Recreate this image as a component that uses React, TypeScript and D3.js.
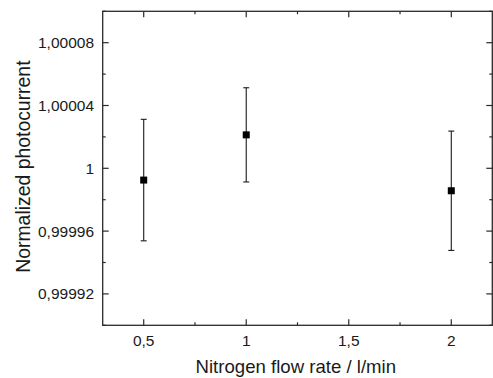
import React from "react";
import * as d3 from "d3";

const flowRates = [0.5, 1, 2];
const photocurrent = [0.9999925, 1.0000213, 0.9999857];
const errors = [0.0000387, 0.00003, 0.000038];
const yTicks = [0.99992, 0.99996, 1, 1.00004, 1.00008];
const yMinorTicks = [0.9999, 0.99994, 0.99998, 1.00002, 1.00006, 1.0001];
const xTicks = [0.5, 1, 1.5, 2];
const xMinorTicks = [0.75, 1.25, 1.75];

const W = 493, H = 378;
const left = 102.7, right = 492.3, top = 11.3, bottom = 325.3;

const fmt = (v: number) => {
  if (v === 1) return "1";
  return v.toFixed(5).replace(/0+$/, "").replace(".", ",");
};
const fmtX = (v: number) => (Number.isInteger(v) ? String(v) : String(v).replace(".", ","));

export default function App() {
  const x = d3.scaleLinear().domain([0.3, 2.2]).range([left, right]);
  const y = d3.scaleLinear().domain([0.9999, 1.0001]).range([bottom, top]);
  const font = "'Liberation Sans', Arial, sans-serif";
  const axisColor = "#2a2a2a";
  const major = 6, minor = 3;
  return (
    <svg width={W} height={H} style={{ position: "absolute", left: 0, top: 0 }}>
      <rect x={0} y={0} width={W} height={H} fill="#fff" />
      {/* frame */}
      <rect x={left} y={top} width={right - left} height={bottom - top} fill="none" stroke={axisColor} strokeWidth={1.3} />
      {/* y ticks */}
      {yTicks.map((t) => (
        <g key={"y" + t}>
          <line x1={left} x2={left + major} y1={y(t)} y2={y(t)} stroke={axisColor} strokeWidth={1.2} />
          <line x1={right} x2={right - major} y1={y(t)} y2={y(t)} stroke={axisColor} strokeWidth={1.2} />
          <text x={94} y={y(t)} dy="0.36em" textAnchor="end" fontFamily={font} fontSize={15.5} fill="#1a1a1a">
            {fmt(t)}
          </text>
        </g>
      ))}
      {yMinorTicks.map((t) => (
        <g key={"ym" + t}>
          <line x1={left} x2={left + minor} y1={y(t)} y2={y(t)} stroke={axisColor} strokeWidth={1.2} />
          <line x1={right} x2={right - minor} y1={y(t)} y2={y(t)} stroke={axisColor} strokeWidth={1.2} />
        </g>
      ))}
      {/* x ticks */}
      {xTicks.map((t) => (
        <g key={"x" + t}>
          <line x1={x(t)} x2={x(t)} y1={bottom} y2={bottom - major} stroke={axisColor} strokeWidth={1.2} />
          <line x1={x(t)} x2={x(t)} y1={top} y2={top + major} stroke={axisColor} strokeWidth={1.2} />
          <text x={x(t)} y={346.3} textAnchor="middle" fontFamily={font} fontSize={15.5} fill="#1a1a1a">
            {fmtX(t)}
          </text>
        </g>
      ))}
      {xMinorTicks.map((t) => (
        <g key={"xm" + t}>
          <line x1={x(t)} x2={x(t)} y1={bottom} y2={bottom - minor} stroke={axisColor} strokeWidth={1.2} />
          <line x1={x(t)} x2={x(t)} y1={top} y2={top + minor} stroke={axisColor} strokeWidth={1.2} />
        </g>
      ))}
      {/* error bars and points */}
      {flowRates.map((f, i) => {
        const cx = x(f);
        const yt = y(photocurrent[i] + errors[i]);
        const yb = y(photocurrent[i] - errors[i]);
        const cy = y(photocurrent[i]);
        return (
          <g key={"p" + i}>
            <line x1={cx} x2={cx} y1={yt} y2={yb} stroke="#1a1a1a" strokeWidth={1.1} />
            <line x1={cx - 3} x2={cx + 3} y1={yt} y2={yt} stroke="#1a1a1a" strokeWidth={1.1} />
            <line x1={cx - 3} x2={cx + 3} y1={yb} y2={yb} stroke="#1a1a1a" strokeWidth={1.1} />
            <rect x={cx - 3.5} y={cy - 3.5} width={7} height={7} fill="#000" />
          </g>
        );
      })}
      {/* axis titles */}
      <text x={(193.3 + 398.3) / 2} y={373.3} textAnchor="middle" fontFamily={font} fontSize={18.6} fill="#1a1a1a">
        Nitrogen flow rate / l/min
      </text>
      <text
        transform={`translate(29.5, ${(60 + 273.3) / 2}) rotate(-90)`}
        textAnchor="middle"
        fontFamily={font}
        fontSize={19.4}
        fill="#1a1a1a"
      >
        Normalized photocurrent
      </text>
    </svg>
  );
}
